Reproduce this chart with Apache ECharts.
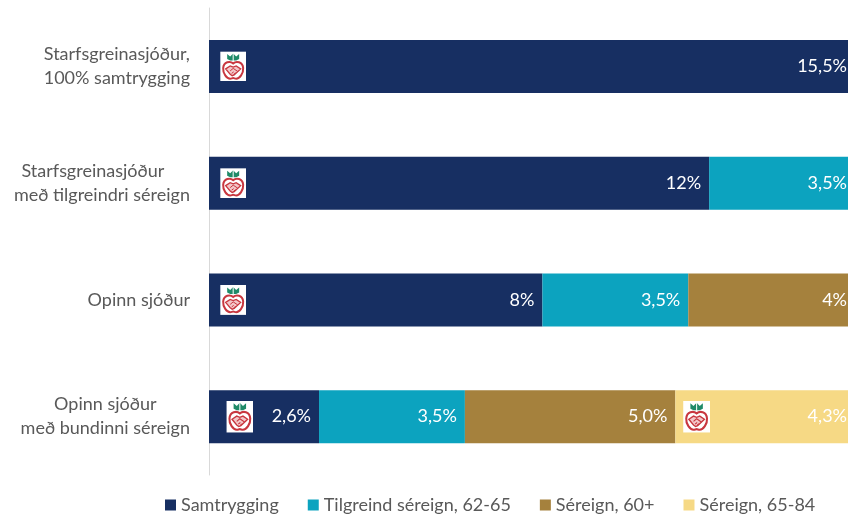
<!DOCTYPE html>
<html>
<head>
<meta charset="utf-8">
<style>
  html, body { margin: 0; padding: 0; background: #ffffff; }
  #chart { width: 848px; height: 517px; }
</style>
<script src="https://cdn.jsdelivr.net/npm/echarts@6/dist/echarts.min.js"></script>
</head>
<body>
<div id="chart"></div>
<script>
const categories = [
  ["Starfsgreinasjóður,", "100% samtrygging"],
  ["Starfsgreinasjóður\u00a0\u00a0\u00a0\u00a0", "með tilgreindri séreign"],
  ["Opinn sjóður"],
  ["Opinn sjóður", "með bundinni séreign"],
];
const samtrygging = [15.5, 12, 8, 2.64];
const tilgreind = [null, 3.5, 3.5, 3.5];
const sereign60 = [null, null, 4, 5.05];
const sereign65 = [null, null, null, 4.31];
const samtryggingLabels = ["15,5%", "12%", "8%", "2,6%"];
const tilgreindLabels = ["", "3,5%", "3,5%", "3,5%"];
const sereign60Labels = ["", "", "4%", "5,0%"];
const sereign65Labels = ["", "", "", "4,3%"];
// [value on the axis, row]
const appleSpots = [[0.58, 0], [0.58, 1], [0.58, 2], [0.74, 3], [11.7, 3]];

const appleIcon = "image://data:image/svg+xml;charset=utf-8," + encodeURIComponent(
  '<svg xmlns="http://www.w3.org/2000/svg" width="104" height="120" viewBox="0 0 26 30">' +
  '<rect width="26" height="30" fill="#ffffff"/>' +
  '<path d="M7 2.500l3 2.500 3-3 3 3 3-2.500v5l-3 1.500h-6l-3-1.500z" fill="#1f8a68"/>' +
  '<path d="M13 1.500v9" stroke="#ffffff" stroke-width="1"/>' +
  '<path d="M13 12c-3-2.500-9.500-2-10 4.800-.4 5.200 3.600 10.500 7 10.500 1.300 0 2-.6 3-.6s1.700.6 3 .6c3.400 0 7.400-5.300 7-10.500C22.500 10 16 9.500 13 12z" fill="#ffffff" stroke="#c8373f" stroke-width="2"/>' +
  '<path d="M5.500 17.500l4.500-3 3 1.200 3-1.200 4.500 3-6.500 6-2 .8-2-1.500z" fill="#f3c6c8" stroke="#c8373f" stroke-width="1.300"/>' +
  '<path d="M10 19.500l3-2.500 4.500 3M11.500 22l2-1.500M13.500 23l2-1.500" fill="none" stroke="#c8373f" stroke-width="1"/>' +
  '</svg>'
);

const chart = echarts.init(document.getElementById("chart"));

function barSeries(name, values, labels, color) {
  return {
    name: name,
    type: "bar",
    stack: "total",
    barWidth: 53,
    data: values,
    itemStyle: { color: color },
    label: {
      show: true,
      position: "insideRight",
      distance: 8,
      color: "#ffffff",
      fontSize: 18,
      fontFamily: "Lato",
      formatter: (p) => labels[p.dataIndex],
    },
  };
}

chart.setOption({
  animation: false,
  legend: {
    data: ["Samtrygging", "Tilgreind séreign, 62-65", "Séreign, 60+", "Séreign, 65-84"],
    left: 165,
    top: 496,
    padding: 0,
    icon: "rect",
    itemWidth: 11,
    itemHeight: 11,
    itemGap: 29,
    textStyle: { color: "#595959", fontSize: 18, fontFamily: "Lato" },
  },
  grid: { left: 209, top: 8, width: 646, height: 467, outerBoundsMode: "none" },
  xAxis: { type: "value", min: 0, max: 15.5, show: false },
  yAxis: {
    type: "category",
    inverse: true,
    data: categories.map((c) => c.join("\n")),
    axisTick: { show: false },
    axisLine: { lineStyle: { color: "#d9d9d9" } },
    axisLabel: {
      margin: 19,
      formatter: (v) => v.split("\n").map((line) => "{c|" + line + "}").join("\n"),
      rich: {
        c: {
          align: "center",
          color: "#595959",
          fontSize: 18,
          lineHeight: 24,
          fontFamily: "Lato",
        },
      },
    },
  },
  series: [
    barSeries("Samtrygging", samtrygging, samtryggingLabels, "#172f62"),
    barSeries("Tilgreind séreign, 62-65", tilgreind, tilgreindLabels, "#0ca3bf"),
    barSeries("Séreign, 60+", sereign60, sereign60Labels, "#a5813d"),
    barSeries("Séreign, 65-84", sereign65, sereign65Labels, "#f6d985"),
    {
      name: "apple",
      type: "scatter",
      symbol: appleIcon,
      symbolSize: (val) => (val[1] === 3 ? [27, 32] : [26, 30]),
      itemStyle: { opacity: 1 },
      data: appleSpots,
      z: 5,
    },
  ],
});
</script>
</body>
</html>
